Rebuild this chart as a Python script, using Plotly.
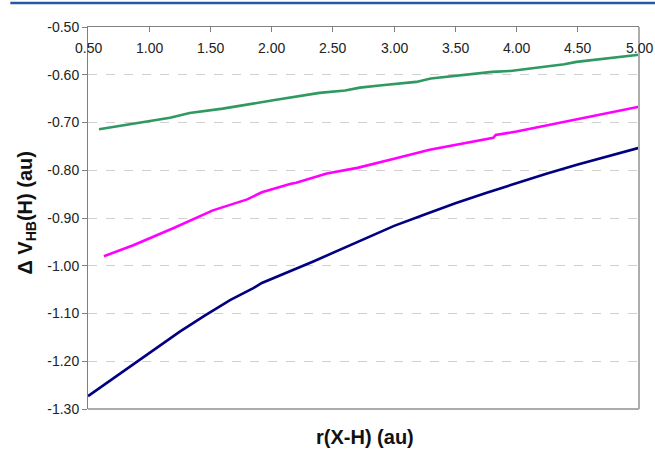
import plotly.graph_objects as go

# r(X-H) in au and the corresponding ΔV_HB(H) values for the three series
r_green = [0.59, 0.80, 1.17, 1.33, 1.60, 2.00, 2.39, 2.60, 2.72, 2.90, 3.18, 3.30,
           3.70, 3.80, 3.95, 4.39, 4.49, 5.00]
v_green = [-0.714, -0.705, -0.690, -0.680, -0.671, -0.654, -0.638, -0.633, -0.627,
           -0.622, -0.615, -0.608, -0.597, -0.594, -0.592, -0.578, -0.573, -0.558]

r_magenta = [0.63, 0.87, 1.20, 1.52, 1.80, 1.92, 2.15, 2.20, 2.45, 2.70, 3.00, 3.29,
             3.81, 3.83, 4.00, 4.43, 5.00]
v_magenta = [-0.980, -0.957, -0.921, -0.884, -0.861, -0.846, -0.829, -0.826, -0.807,
             -0.795, -0.776, -0.757, -0.732, -0.726, -0.719, -0.697, -0.667]

r_navy = [0.50, 0.845, 1.25, 1.45, 1.66, 1.85, 1.87, 1.92, 2.34, 2.88, 3.00, 3.25,
          3.50, 3.75, 4.00, 4.25, 4.50, 4.75, 5.00]
v_navy = [-1.273, -1.211, -1.138, -1.105, -1.072, -1.047, -1.044, -1.036, -0.991,
          -0.929, -0.9165, -0.8925, -0.869, -0.8475, -0.8265, -0.807, -0.788,
          -0.770, -0.753]

x_ticks = [0.5, 1.0, 1.5, 2.0, 2.5, 3.0, 3.5, 4.0, 4.5, 5.0]
y_ticks = [-0.5, -0.6, -0.7, -0.8, -0.9, -1.0, -1.1, -1.2, -1.3]

FONT = "Liberation Sans, Arial, sans-serif"

fig = go.Figure()
for xs, ys, col in [(r_green, v_green, "#2f9960"),
                    (r_magenta, v_magenta, "#ff00ff"),
                    (r_navy, v_navy, "#000080")]:
    fig.add_trace(go.Scatter(x=xs, y=ys, mode="lines",
                             line=dict(color=col, width=2.6),
                             showlegend=False, hoverinfo="skip"))

fig.update_layout(
    width=655, height=451,
    margin=dict(l=88, r=16, t=27, b=42),
    paper_bgcolor="white", plot_bgcolor="white",
    font=dict(family=FONT, size=14, color="#222222"),
    xaxis=dict(
        range=[0.5, 5.0], side="top", tickvals=x_ticks,
        ticks="inside", ticklen=5, tickcolor="#808080",
        showticklabels=False,
        showline=True, linecolor="#808080", linewidth=1,
        showgrid=False, zeroline=False,
    ),
    yaxis=dict(
        range=[-1.3, -0.5], tickvals=y_ticks,
        ticktext=[f"{v:.2f}" for v in y_ticks],
        ticks="outside", ticklen=5, tickcolor="#808080",
        showline=True, linecolor="#808080", linewidth=1,
        showgrid=True, gridcolor="#d0d0d0", griddash="dash", gridwidth=1,
        zeroline=False,
    ),
)

# x tick labels sit just under the top axis line, inside the plot area
for v in x_ticks:
    fig.add_annotation(text=f"{v:.2f}", x=v, xref="x", y=0.945, yref="paper",
                       showarrow=False, xanchor="center", yanchor="middle",
                       font=dict(family=FONT, size=14, color="#222222"))

# frame on the right and bottom edges of the plot area
fig.add_shape(type="line", xref="paper", yref="paper", x0=1, x1=1, y0=0, y1=1,
              line=dict(color="#acacac", width=2))
fig.add_shape(type="line", xref="paper", yref="paper", x0=0, x1=1, y0=0, y1=0,
              line=dict(color="#acacac", width=2))
# blue rule across the top of the page
fig.add_shape(type="line", xref="paper", yref="paper", x0=-0.141, x1=1.03,
              y0=1.063, y1=1.063, line=dict(color="#1f5ca8", width=2.5))

# axis titles
fig.add_annotation(text="<b>r(X-H) (au)</b>", xref="paper", yref="paper",
                   x=0.502, y=-0.074, showarrow=False, yanchor="middle",
                   font=dict(family=FONT, size=20, color="#111111"))
fig.add_annotation(text="<b>\u0394 V<sub>HB</sub>(H) (au)</b>", xref="paper",
                   yref="paper", x=-0.112, y=0.515, showarrow=False, textangle=-90,
                   xanchor="center", yanchor="middle",
                   font=dict(family=FONT, size=20, color="#111111"))

fig.write_html("out.html")
